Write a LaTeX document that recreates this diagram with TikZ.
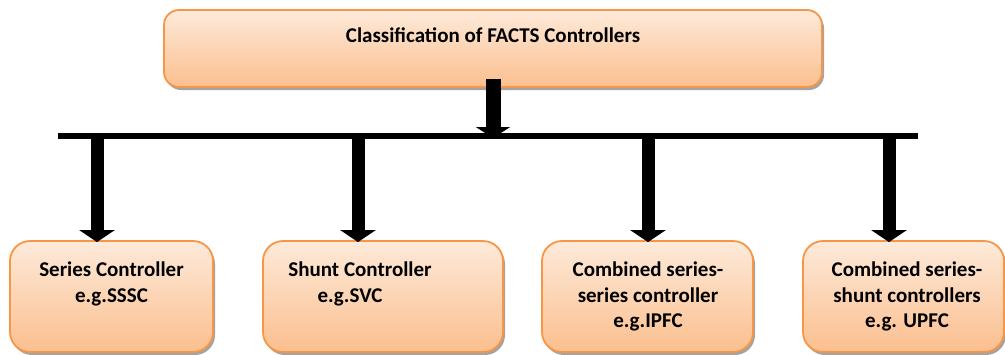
\documentclass[tikz,border=0pt]{standalone}
\usepackage{fontspec}
\setmainfont{Carlito}
\usetikzlibrary{arrows.meta,shadows}
\definecolor{boxtop}{RGB}{253,234,218}
\definecolor{boxbot}{RGB}{251,191,142}
\definecolor{boxline}{RGB}{247,150,70}
\begin{document}
\begin{tikzpicture}[x=1pt,y=-1pt,
  box/.style={draw=boxline, line width=1.8pt, top color=boxtop, bottom color=boxbot,
    rounded corners=20pt, inner sep=0pt,
    drop shadow={shadow xshift=2pt, shadow yshift=-3pt, fill=black!45, opacity=0.8}},
  lbl/.style={font=\bfseries\fontsize{21}{25.5}\selectfont, align=center, inner sep=0pt, anchor=north},
  downarrow/.style={line width=13pt, -{Triangle[length=12pt,width=35pt]}},
  toparrow/.style={line width=15pt, -{Triangle[length=11pt,width=34pt]}},
  bar/.style={line width=6pt}
]
\useasboundingbox (0,0) rectangle (1005,354);
% boxes
\node[box, rounded corners=15pt, minimum width=658pt, minimum height=77pt] (top) at (493,48.5) {};
\node[lbl] (ttop) at (493,28) {Classification of FACTS Controllers};
\node[box, minimum width=203pt, minimum height=111pt] (b1) at (111.5,296.5) {};
\node[box, minimum width=240pt, minimum height=111pt] (b2) at (383,296.5) {};
\node[box, minimum width=211pt, minimum height=111pt] (b3) at (647.5,296.5) {};
\node[box, minimum width=201pt, minimum height=111pt] (b4) at (903.5,296.5) {};
\node[lbl] (t1) at (111.5,262) {Series Controller\\e.g.SSSC};
\node[lbl] (t2) at (360,262) {Shunt Controller\\e.g.SVC\hspace*{20pt}};
\node[lbl] (t3) at (648,262) {Combined series-\\series controller\\e.g.IPFC};
\node[lbl] (t4) at (907,262) {Combined series-\\shunt controllers\\e.g. UPFC};
% bar
\coordinate (barL) at (58,136);
\coordinate (barR) at (918,136);
\draw[bar] (barL) -- (barR);
\coordinate (a0) at (493,136);
\draw[toparrow] ([yshift=9pt]top.south) -- ([yshift=-2pt]a0);
\coordinate (a1) at (97,136);
\coordinate (a2) at (358,136);
\coordinate (a3) at (648,136);
\coordinate (a4) at (889,136);
\draw[downarrow] (a1) -- ([yshift=-2pt]a1 |- b1.north);
\draw[downarrow] (a2) -- ([yshift=-2pt]a2 |- b2.north);
\draw[downarrow] (a3) -- ([yshift=-2pt]a3 |- b3.north);
\draw[downarrow] (a4) -- ([yshift=-2pt]a4 |- b4.north);
\end{tikzpicture}
\end{document}
